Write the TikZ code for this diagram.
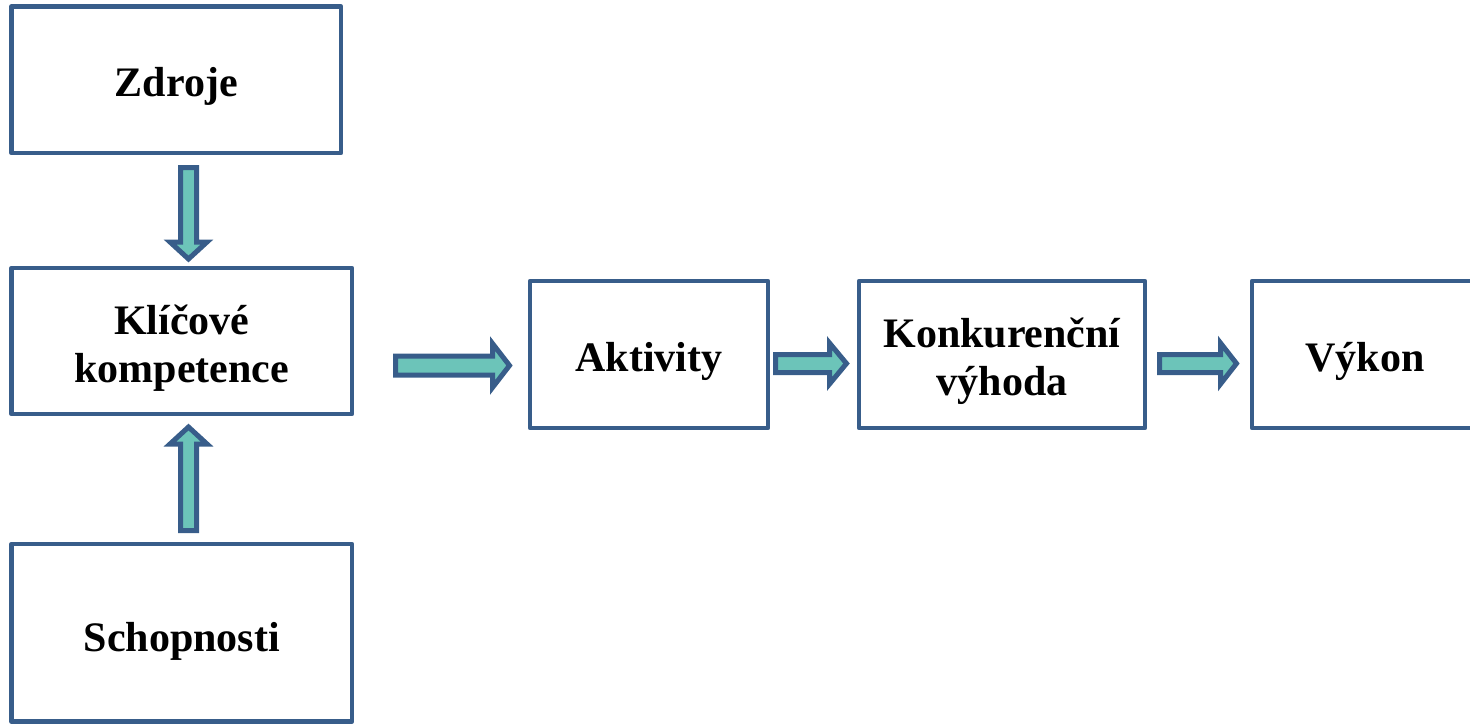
\documentclass[tikz,border=0pt]{standalone}
\usepackage{fontspec}
\setmainfont{Liberation Serif}
\definecolor{boxblue}{HTML}{385D8A}
\definecolor{arrowfill}{HTML}{6CC4B9}
\tikzset{
  box/.style={draw=boxblue, line width=4.5pt, line join=round, fill=white, inner sep=0pt},
  boxtext/.style={align=center, inner sep=0pt, yshift=-7pt,
    font=\fontsize{42}{48}\selectfont\bfseries},
  blockarrow/.style={draw=boxblue, fill=arrowfill, line width=5pt, line join=miter},
  pics/barrow/.style n args={4}{code={%
    \draw[blockarrow] (0,-#2) -- ({#1-#4},-#2) -- ({#1-#4},-#3) -- (#1,0)
      -- ({#1-#4},#3) -- ({#1-#4},#2) -- (0,#2) -- cycle;
  }}
}
\begin{document}
\begin{tikzpicture}[x=1pt,y=-1pt]
\useasboundingbox (0,0) rectangle (1470,724);
% boxes
\node[box, minimum width=329.5pt, minimum height=146.5pt] (zdroje) at (176.25,79.75) {};
\node[box, minimum width=340.5pt, minimum height=146pt] (klic) at (181.75,341) {};
\node[box, minimum width=340.5pt, minimum height=177.5pt] (schop) at (181.75,632.75) {};
\node[box, minimum width=238pt, minimum height=147pt] (akt) at (649,354.5) {};
\node[box, minimum width=286pt, minimum height=147pt] (konk) at (1002,354.5) {};
\node[box, minimum width=226pt, minimum height=147pt] (vykon) at (1365,354.5) {};
% texts
\node[boxtext] (tz) at (zdroje.center) {Zdroje};
\node[boxtext] (tk) at (klic.center) {Klíčové\\kompetence};
\node[boxtext, yshift=-2pt] (ts) at (schop.center) {Schopnosti};
\node[boxtext] (ta) at (akt.center) {Aktivity};
\node[boxtext] (tko) at (konk.center) {Konkurenční\\výhoda};
\node[boxtext] (tv) at (vykon.center) {Výkon};
% block arrows
\pic[rotate=-90] at (188.5,167.5) {barrow={91.5}{8}{18.5}{17}};
\pic[rotate=90] at (188.5,530.5) {barrow={103.5}{8}{18.5}{17}};
\pic at (395.5,365.5) {barrow={114}{9.5}{22}{17}};
\pic at (775.5,363.5) {barrow={71}{9}{20.5}{17}};
\pic at (1159.5,363.5) {barrow={77}{9}{20.5}{16}};
\end{tikzpicture}
\end{document}
